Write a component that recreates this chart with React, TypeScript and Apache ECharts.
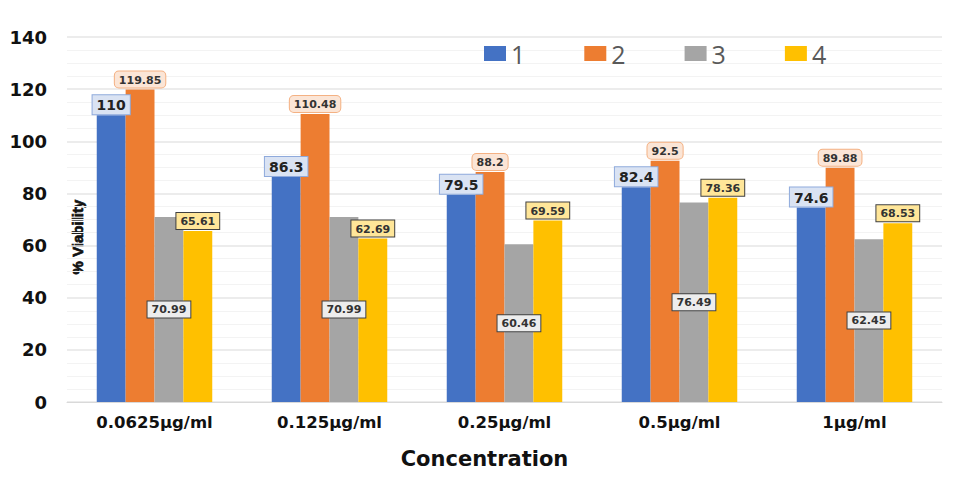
import * as echarts from 'echarts';
import React, { useEffect, useRef } from 'react';

const categories = ['0.0625µg/ml', '0.125µg/ml', '0.25µg/ml', '0.5µg/ml', '1µg/ml'];
const seriesNames = ['1', '2', '3', '4'];
const series1 = [110, 86.3, 79.5, 82.4, 74.6];
const series2 = [119.85, 110.48, 88.2, 92.5, 89.88];
const series3 = [70.99, 70.99, 60.46, 76.49, 62.45];
const series4 = [65.61, 62.69, 69.59, 78.36, 68.53];

const colors = ['#4472c4', '#ed7d31', '#a5a5a5', '#ffc000'];

const App: React.FC = () => {
  const chartRef = useRef<HTMLDivElement>(null);

  useEffect(() => {
    if (!chartRef.current) return;
    const chart = echarts.init(chartRef.current, undefined, { renderer: 'svg' });

    const font = 'DejaVu Sans, sans-serif';

    const labelBase = {
      show: true,
      fontFamily: font,
      fontWeight: 'bold' as const,
      color: '#333',
      fontSize: 11,
      padding: [3, 4, 2, 4],
      borderWidth: 1,
    };

    const option: echarts.EChartsOption = {
      animation: false,
      color: colors,
      grid: { left: 59, right: 21, top: 29, bottom: 68, outerBoundsMode: 'none' } as any,
      legend: {
        data: seriesNames,
        left: 471,
        top: 28,
        itemWidth: 22,
        itemHeight: 15,
        itemGap: 59,
        icon: 'rect',
        textStyle: { fontSize: 25, color: '#595959', fontFamily: 'Open Sans, sans-serif' },
      },
      // y-axis title sits inside the plot, just right of the axis
      graphic: [
        {
          type: 'text',
          x: 69,
          y: 229,
          rotation: Math.PI / 2,
          style: {
            text: '% Viability',
            fontFamily: 'Liberation Sans Narrow, Liberation Sans, sans-serif',
            fontWeight: 'bold',
            fontSize: 15,
            fill: '#111',
            stroke: '#111',
            lineWidth: 0.7,
            align: 'center',
            verticalAlign: 'middle',
          },
        },
      ],
      xAxis: {
        type: 'category',
        data: categories,
        name: 'Concentration',
        nameLocation: 'middle',
        nameGap: 46,
        nameTextStyle: {
          fontFamily: font,
          fontWeight: 'bold',
          fontSize: 21,
          color: '#111',
          padding: [0, 40, 0, 0],
        },
        axisLine: { lineStyle: { color: '#d9d9d9', width: 1 } },
        axisTick: { show: false },
        axisLabel: {
          fontFamily: font,
          fontWeight: 'bold',
          fontSize: 16.5,
          color: '#111',
          margin: 12,
        },
      },
      yAxis: {
        type: 'value',
        min: 0,
        max: 140,
        interval: 20,
        axisLine: { show: false },
        axisTick: { show: false },
        axisLabel: {
          fontFamily: font,
          fontWeight: 'bold',
          fontSize: 18,
          color: '#111',
          margin: 20,
        },
        splitLine: { lineStyle: { color: '#e6e6e6', width: 1.5 } },
        minorTick: { show: false, splitNumber: 4 },
        minorSplitLine: { show: true, lineStyle: { color: '#f3f3f3', width: 1 } },
      },
      series: [
        {
          name: seriesNames[0],
          type: 'bar',
          data: series1,
          barGap: '0%',
          barCategoryGap: '34%',
          label: {
            ...labelBase,
            position: 'top',
            distance: 1,
            fontSize: 14,
            backgroundColor: '#dae3f3',
            borderColor: '#8faadc',
            color: '#222',
          },
        },
        {
          name: seriesNames[1],
          type: 'bar',
          data: series2,
          label: {
            ...labelBase,
            position: 'top',
            distance: 2,
            backgroundColor: '#fbe5d6',
            borderColor: '#f4b183',
            borderRadius: 4,
          },
        },
        {
          name: seriesNames[2],
          type: 'bar',
          data: series3,
          label: {
            ...labelBase,
            position: 'inside',
            backgroundColor: '#ededed',
            borderColor: '#404040',
          },
        },
        {
          name: seriesNames[3],
          type: 'bar',
          data: series4,
          label: {
            ...labelBase,
            position: 'top',
            distance: 2,
            backgroundColor: '#ffe699',
            borderColor: '#404040',
          },
        },
      ],
    };

    chart.setOption(option);
    return () => chart.dispose();
  }, []);

  return <div ref={chartRef} style={{ width: 955, height: 462 }} />;
};

export default App;
